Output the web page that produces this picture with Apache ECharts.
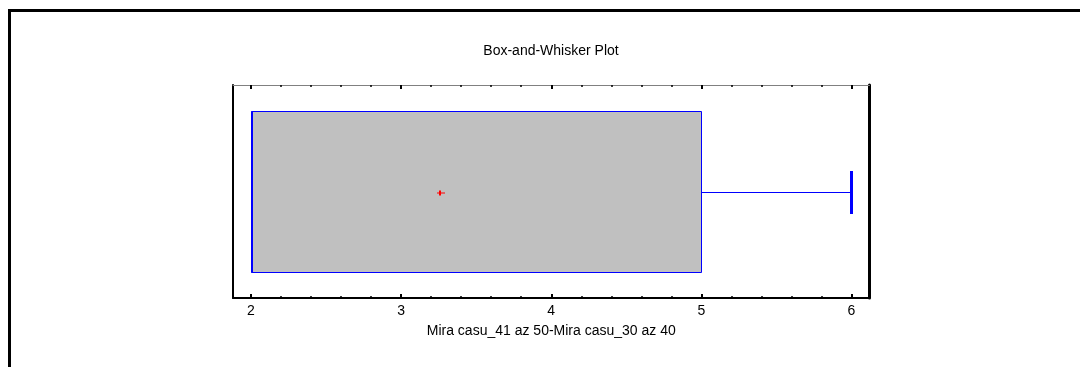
<!DOCTYPE html>
<html>
<head>
<meta charset="utf-8">
<style>html,body{margin:0;padding:0;background:#fff}#c{width:1080px;height:367px}</style>
<script src="https://cdn.jsdelivr.net/npm/echarts@6/dist/echarts.min.js"></script>
</head>
<body>
<div id="c"></div>
<script>
// ---- data ----
const chartTitle = 'Box-and-Whisker Plot';
const categories = ['Mira casu_41 az 50-Mira casu_30 az 40'];
const minimum = [2];
const q1 = [2];
const median = [2];
const q3 = [5];
const maximum = [6];
const mean = [3.25];
const majorTicks = [2, 3, 4, 5, 6];
const minorTicks = [2.2, 2.4, 2.6, 2.8, 3.2, 3.4, 3.6, 3.8, 4.2, 4.4, 4.6, 4.8, 5.2, 5.4, 5.6, 5.8];
const axisMin = 1.88;
const axisMax = 6.12;

const FONT = 'Liberation Sans, Arial, sans-serif';
const BLUE = '#0000ff';

const boxData = categories.map((c, i) => [minimum[i], q1[i], median[i], q3[i], maximum[i], mean[i]]);

const snap = v => Math.round(v) + 0.5;

function renderBox(params, api) {
  const vMin = api.value(0), vQ1 = api.value(1), vMed = api.value(2), vQ3 = api.value(3), vMax = api.value(4), vMean = api.value(5);
  const cyRaw = api.coord([vQ1, 0.5])[1];
  const cy = snap(cyRaw);
  const plotH = api.size([0, 1])[1];
  const boxH = Math.round(plotH * 0.756);
  const capH = Math.round(plotH * 0.2);
  const xMin = snap(api.coord([vMin, 0.5])[0]);
  const xQ1 = snap(api.coord([vQ1, 0.5])[0]);
  const xMed = Math.round(api.coord([vMed, 0.5])[0]) + 1;
  const xQ3 = snap(api.coord([vQ3, 0.5])[0]);
  const xMax = snap(api.coord([vMax, 0.5])[0]);
  const xMean = Math.round(api.coord([vMean, 0.5])[0]);
  const top = snap(cyRaw - boxH / 2);
  const children = [
    { type: 'rect', shape: { x: xQ1, y: top, width: xQ3 - xQ1, height: boxH },
      style: { fill: '#c0c0c0', stroke: BLUE, lineWidth: 1 } },
    { type: 'line', shape: { x1: xMed, y1: top, x2: xMed, y2: top + boxH },
      style: { stroke: BLUE, lineWidth: 2 } },
    { type: 'line', shape: { x1: xQ3, y1: cy, x2: xMax, y2: cy },
      style: { stroke: BLUE, lineWidth: 1 } },
    { type: 'line', shape: { x1: xMax, y1: cy - capH / 2, x2: xMax, y2: cy + capH / 2 },
      style: { stroke: BLUE, lineWidth: 3 } },
    { type: 'line', shape: { x1: xMin, y1: cy, x2: xQ1, y2: cy },
      style: { stroke: BLUE, lineWidth: 1 } },
    // mean marker
    { type: 'line', shape: { x1: xMean - 2, y1: cy + 0.5, x2: xMean + 6, y2: cy + 0.5 },
      style: { stroke: '#ff0000', lineWidth: 1 } },
    { type: 'line', shape: { x1: xMean + 1, y1: cy - 2, x2: xMean + 1, y2: cy + 3 },
      style: { stroke: '#ff0000', lineWidth: 2 } }
  ];
  return { type: 'group', children };
}

const chart = echarts.init(document.getElementById('c'), null, { renderer: 'canvas' });
const baseX = { type: 'value', min: axisMin, max: axisMax, splitLine: { show: false } };
chart.setOption({
  animation: false,
  backgroundColor: '#fff',
  title: {
    text: chartTitle, left: 551, top: 44, textAlign: 'center', padding: 0,
    textStyle: { fontFamily: FONT, fontSize: 14, fontWeight: 'normal', color: '#000' }
  },
  graphic: [
    { type: 'rect', shape: { x: 9.5, y: 10.5, width: 2000, height: 2000 },
      style: { fill: 'none', stroke: '#000', lineWidth: 3 }, silent: true }
  ],
  grid: { left: 233, right: 210.5, top: 85, bottom: 69, containLabel: false },
  xAxis: [
    Object.assign({}, baseX, {
      position: 'bottom',
      name: categories[0], nameLocation: 'middle', nameGap: 26,
      nameTextStyle: { fontFamily: FONT, fontSize: 14, color: '#000' },
      axisLine: { show: true, lineStyle: { color: '#000', width: 2 } },
      axisTick: { show: true, inside: true, length: 4, customValues: majorTicks, lineStyle: { color: '#000', width: 2 } },
      axisLabel: { show: true, customValues: majorTicks, margin: 6, fontFamily: FONT, fontSize: 14, color: '#000' }
    }),
    Object.assign({}, baseX, {
      position: 'bottom',
      axisLine: { show: false },
      axisTick: { show: true, inside: true, length: 2, customValues: minorTicks, lineStyle: { color: '#000', width: 1.5 } },
      axisLabel: { show: false }
    }),
    Object.assign({}, baseX, {
      position: 'top',
      axisLine: { show: true, lineStyle: { color: '#808080', width: 1 } },
      axisTick: { show: true, inside: true, length: 4, customValues: majorTicks, lineStyle: { color: '#000', width: 2 } },
      axisLabel: { show: false }
    }),
    Object.assign({}, baseX, {
      position: 'top',
      axisLine: { show: false },
      axisTick: { show: true, inside: true, length: 2, customValues: minorTicks, lineStyle: { color: '#000', width: 1.5 } },
      axisLabel: { show: false }
    })
  ],
  yAxis: [
    { type: 'value', min: 0, max: 1, position: 'left',
      axisLine: { show: true, onZero: false, lineStyle: { color: '#000', width: 2 } },
      axisTick: { show: false }, axisLabel: { show: false }, splitLine: { show: false } },
    { type: 'value', min: 0, max: 1, position: 'right',
      axisLine: { show: true, onZero: false, lineStyle: { color: '#000', width: 3 } },
      axisTick: { show: false }, axisLabel: { show: false }, splitLine: { show: false } }
  ],
  series: [{
    type: 'custom',
    xAxisIndex: 0, yAxisIndex: 0,
    renderItem: renderBox,
    data: boxData,
    encode: { x: [0, 1, 2, 3, 4, 5] },
    clip: false,
    silent: true
  }]
});
</script>
</body>
</html>
